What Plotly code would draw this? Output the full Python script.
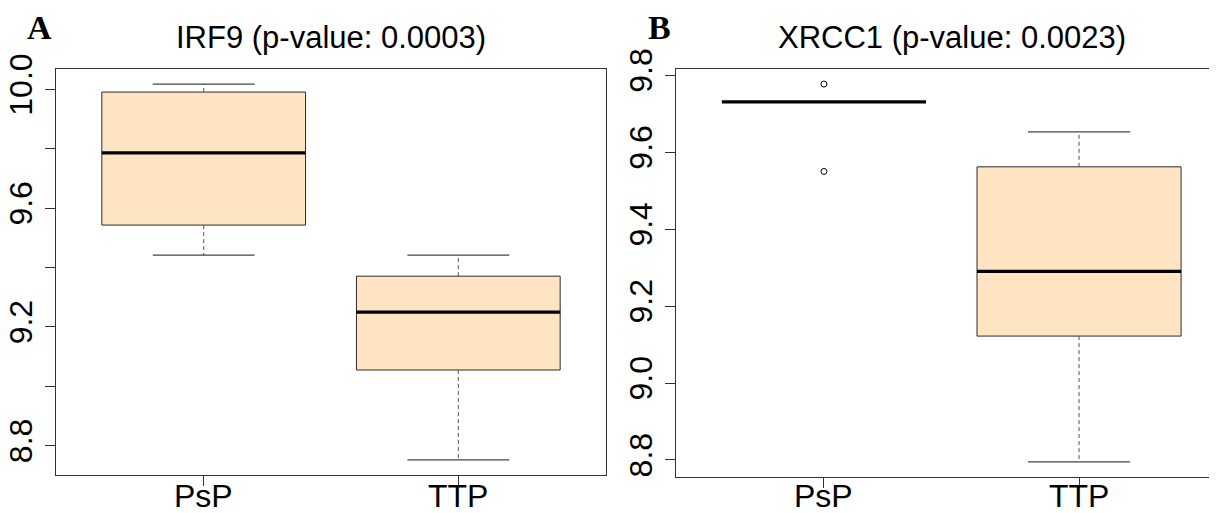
import plotly.graph_objects as go

# ---------------- data ----------------
categories = ["PsP", "TTP"]

# Panel A: IRF9
irf9_lower = [9.442, 8.752]
irf9_q1 = [9.543, 9.055]
irf9_median = [9.786, 9.250]
irf9_q3 = [9.991, 9.371]
irf9_upper = [10.018, 9.442]
irf9_outliers = [[], []]

# Panel B: XRCC1
xrcc1_lower = [9.731, 8.795]
xrcc1_q1 = [9.731, 9.122]
xrcc1_median = [9.731, 9.290]
xrcc1_q3 = [9.731, 9.562]
xrcc1_upper = [9.731, 9.653]
xrcc1_outliers = [[9.777, 9.550], []]

titles = ["IRF9 (p-value: 0.0003)", "XRCC1 (p-value: 0.0023)"]
panel_letters = ["A", "B"]
irf9_ticks = [8.8, 9.0, 9.2, 9.4, 9.6, 9.8, 10.0]
irf9_ticklabels = ["8.8", "", "9.2", "", "9.6", "", "10.0"]
xrcc1_ticks = [8.8, 9.0, 9.2, 9.4, 9.6, 9.8]
xrcc1_ticklabels = ["8.8", "9.0", "9.2", "9.4", "9.6", "9.8"]

# ---------------- style ----------------
PAGE_W, PAGE_H = 1217, 513
OFF = 8                      # default body margin of the page
W, H = PAGE_W - OFF, PAGE_H - OFF
FILL = "#FFE4C4"
EDGE = "#2b2b2b"
WHISK = "#555555"
FONT = "Liberation Sans, Arial, sans-serif"
TICKSIZE = 32
TITLESIZE = 31
BOXW = 0.4       # half box width
CAPW = 0.2       # half cap width

# panel geometry in page pixels (left, right_full, top, bottom)
panels_px = [(56, 606, 69, 475), (676, 1227, 69, 477)]

fig = go.Figure()


def fx(px):
    return (px - OFF) / W


def fy(py):
    return 1 - (py - OFF) / H


def add_panel(i, lower, q1, med, q3, upper, outliers):
    xa = "x" if i == 0 else "x2"
    ya = "y" if i == 0 else "y2"
    pos = list(range(1, len(categories) + 1))
    bx, by = [], []
    for c, a, b in zip(pos, q1, q3):
        bx += [c - BOXW, c + BOXW, c + BOXW, c - BOXW, c - BOXW, None]
        by += [a, a, b, b, a, None]
    fig.add_trace(go.Scatter(x=bx, y=by, mode="lines", fill="toself", fillcolor=FILL,
                             line=dict(color=EDGE, width=1), xaxis=xa, yaxis=ya,
                             hoverinfo="skip", showlegend=False))
    wx, wy = [], []
    for c, lo, a, b, hi in zip(pos, lower, q1, q3, upper):
        if hi > b:
            wx += [c, c, None]; wy += [b, hi, None]
        if lo < a:
            wx += [c, c, None]; wy += [a, lo, None]
    fig.add_trace(go.Scatter(x=wx, y=wy, mode="lines", line=dict(color=WHISK, width=1, dash="4px,3px"),
                             xaxis=xa, yaxis=ya, hoverinfo="skip", showlegend=False))
    cx, cy = [], []
    for c, lo, a, b, hi in zip(pos, lower, q1, q3, upper):
        if hi > b:
            cx += [c - CAPW, c + CAPW, None]; cy += [hi, hi, None]
        if lo < a:
            cx += [c - CAPW, c + CAPW, None]; cy += [lo, lo, None]
    fig.add_trace(go.Scatter(x=cx, y=cy, mode="lines", line=dict(color="#444444", width=1.3),
                             xaxis=xa, yaxis=ya, hoverinfo="skip", showlegend=False))
    mx, my = [], []
    for c, m in zip(pos, med):
        mx += [c - BOXW, c + BOXW, None]; my += [m, m, None]
    fig.add_trace(go.Scatter(x=mx, y=my, mode="lines", line=dict(color="black", width=3.2),
                             xaxis=xa, yaxis=ya, hoverinfo="skip", showlegend=False))
    ox, oy = [], []
    for c, outs in zip(pos, outliers):
        for v in outs:
            ox.append(c); oy.append(v)
    if ox:
        fig.add_trace(go.Scatter(x=ox, y=oy, mode="markers",
                                 marker=dict(symbol="circle-open", size=6, color="black", line=dict(width=1)),
                                 xaxis=xa, yaxis=ya, hoverinfo="skip", showlegend=False))
    # category labels under the axis (placed on the axis' own category positions)
    for c, name in zip(pos, categories):
        fig.add_annotation(x=c, xref=xa, y=fy(496), yref="paper", text=name, showarrow=False,
                           xanchor="center", yanchor="middle",
                           font=dict(family=FONT, size=TICKSIZE, color="black"))


add_panel(0, irf9_lower, irf9_q1, irf9_median, irf9_q3, irf9_upper, irf9_outliers)
add_panel(1, xrcc1_lower, xrcc1_q1, xrcc1_median, xrcc1_q3, xrcc1_upper, xrcc1_outliers)


def yrange(lower, upper, outliers):
    vals = list(lower) + list(upper) + [v for o in outliers for v in o]
    lo, hi = min(vals), max(vals)
    r = hi - lo
    return [lo - 0.04 * r, hi + 0.04 * r]


n = len(categories)
xlo, xhi = 0.5 - 0.04 * n, n + 0.5 + 0.04 * n

axis_common = dict(showgrid=False, zeroline=False, showline=True, linecolor="#333333", linewidth=1,
                   ticks="outside", ticklen=10, tickcolor="#333333", tickwidth=1, automargin=False,
                   tickfont=dict(family=FONT, size=TICKSIZE, color="black"))

for i, (L, R, T, B) in enumerate(panels_px):
    Rv = min(R, OFF + W)
    full_w = R - L
    xr = [xlo, xlo + (xhi - xlo) * (Rv - L) / full_w]
    if i == 0:
        yr = yrange(irf9_lower, irf9_upper, irf9_outliers)
        tv, tt = irf9_ticks, irf9_ticklabels
    else:
        yr = yrange(xrcc1_lower, xrcc1_upper, xrcc1_outliers)
        tv, tt = xrcc1_ticks, xrcc1_ticklabels
    xkey = "xaxis" if i == 0 else "xaxis2"
    ykey = "yaxis" if i == 0 else "yaxis2"
    fig.update_layout({
        xkey: dict(axis_common, domain=[fx(L), min(fx(Rv), 1)], range=xr, mirror=True,
                   tickvals=list(range(1, n + 1)), ticktext=categories, showticklabels=False,
                   anchor="y" if i == 0 else "y2"),
        ykey: dict(axis_common, domain=[fy(B), fy(T)], range=yr,
                   mirror=(i == 0), tickvals=tv, ticktext=tt, tickangle=-90,
                   ticklabelstandoff=0,
                   anchor="x" if i == 0 else "x2"),
    })
    fig.add_annotation(x=fx((L + R) / 2), y=fy(37), xref="paper", yref="paper",
                       text=titles[i], showarrow=False, xanchor="center", yanchor="middle",
                       font=dict(family=FONT, size=TITLESIZE, color="black"))
    fig.add_annotation(x=fx(L - 17), y=fy(27), xref="paper", yref="paper",
                       text="<b>%s</b>" % panel_letters[i], showarrow=False,
                       xanchor="center", yanchor="middle",
                       font=dict(family="Liberation Serif, Times New Roman, serif", size=34, color="black"))

fig.update_layout(width=W, height=H, margin=dict(l=0, r=0, t=0, b=0, autoexpand=False),
                  plot_bgcolor="white", paper_bgcolor="white", showlegend=False)

fig.write_html("out.html")
